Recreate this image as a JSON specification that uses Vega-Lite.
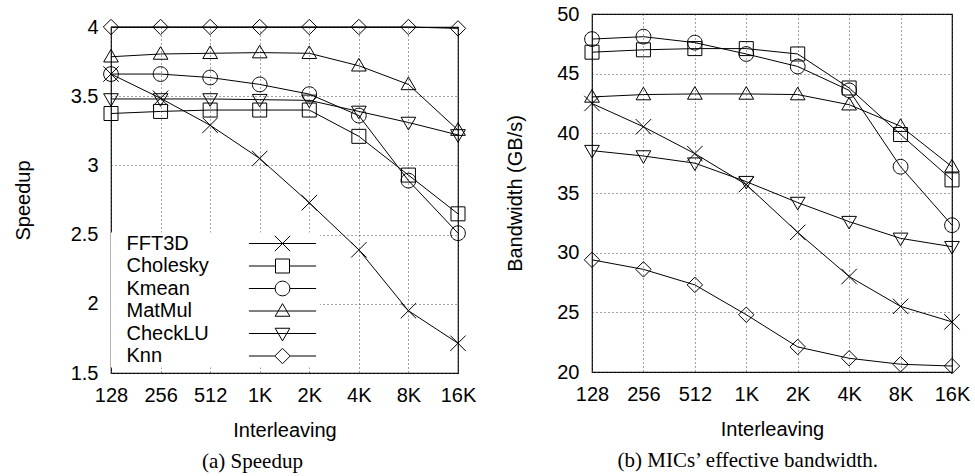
{
  "$schema": "https://vega.github.io/schema/vega-lite/v6.json",
  "padding": {"left": 12, "top": 3, "right": 5, "bottom": 3},
  "spacing": 28,
  "datasets": {
    "speedup": [
      {"i": "128", "s": "FFT3D", "v": 3.66}, {"i": "256", "s": "FFT3D", "v": 3.485}, {"i": "512", "s": "FFT3D", "v": 3.29}, {"i": "1K", "s": "FFT3D", "v": 3.05},
      {"i": "2K", "s": "FFT3D", "v": 2.73}, {"i": "4K", "s": "FFT3D", "v": 2.39}, {"i": "8K", "s": "FFT3D", "v": 1.95}, {"i": "16K", "s": "FFT3D", "v": 1.715},
      {"i": "128", "s": "Cholesky", "v": 3.375}, {"i": "256", "s": "Cholesky", "v": 3.39}, {"i": "512", "s": "Cholesky", "v": 3.4}, {"i": "1K", "s": "Cholesky", "v": 3.4},
      {"i": "2K", "s": "Cholesky", "v": 3.4}, {"i": "4K", "s": "Cholesky", "v": 3.21}, {"i": "8K", "s": "Cholesky", "v": 2.93}, {"i": "16K", "s": "Cholesky", "v": 2.65},
      {"i": "128", "s": "Kmean", "v": 3.66}, {"i": "256", "s": "Kmean", "v": 3.66}, {"i": "512", "s": "Kmean", "v": 3.635}, {"i": "1K", "s": "Kmean", "v": 3.585},
      {"i": "2K", "s": "Kmean", "v": 3.515}, {"i": "4K", "s": "Kmean", "v": 3.36}, {"i": "8K", "s": "Kmean", "v": 2.89}, {"i": "16K", "s": "Kmean", "v": 2.51},
      {"i": "128", "s": "MatMul", "v": 3.785}, {"i": "256", "s": "MatMul", "v": 3.805}, {"i": "512", "s": "MatMul", "v": 3.81}, {"i": "1K", "s": "MatMul", "v": 3.815},
      {"i": "2K", "s": "MatMul", "v": 3.81}, {"i": "4K", "s": "MatMul", "v": 3.72}, {"i": "8K", "s": "MatMul", "v": 3.585}, {"i": "16K", "s": "MatMul", "v": 3.255},
      {"i": "128", "s": "CheckLU", "v": 3.48}, {"i": "256", "s": "CheckLU", "v": 3.48}, {"i": "512", "s": "CheckLU", "v": 3.48}, {"i": "1K", "s": "CheckLU", "v": 3.475},
      {"i": "2K", "s": "CheckLU", "v": 3.47}, {"i": "4K", "s": "CheckLU", "v": 3.39}, {"i": "8K", "s": "CheckLU", "v": 3.31}, {"i": "16K", "s": "CheckLU", "v": 3.22},
      {"i": "128", "s": "Knn", "v": 4.0}, {"i": "256", "s": "Knn", "v": 4.0}, {"i": "512", "s": "Knn", "v": 4.0}, {"i": "1K", "s": "Knn", "v": 4.0},
      {"i": "2K", "s": "Knn", "v": 4.0}, {"i": "4K", "s": "Knn", "v": 4.0}, {"i": "8K", "s": "Knn", "v": 4.0}, {"i": "16K", "s": "Knn", "v": 3.99}
    ],
    "bandwidth": [
      {"i": "128", "s": "FFT3D", "v": 42.5}, {"i": "256", "s": "FFT3D", "v": 40.55}, {"i": "512", "s": "FFT3D", "v": 38.3}, {"i": "1K", "s": "FFT3D", "v": 35.7},
      {"i": "2K", "s": "FFT3D", "v": 31.7}, {"i": "4K", "s": "FFT3D", "v": 28.0}, {"i": "8K", "s": "FFT3D", "v": 25.5}, {"i": "16K", "s": "FFT3D", "v": 24.2},
      {"i": "128", "s": "Cholesky", "v": 46.8}, {"i": "256", "s": "Cholesky", "v": 47.0}, {"i": "512", "s": "Cholesky", "v": 47.1}, {"i": "1K", "s": "Cholesky", "v": 47.1},
      {"i": "2K", "s": "Cholesky", "v": 46.65}, {"i": "4K", "s": "Cholesky", "v": 43.8}, {"i": "8K", "s": "Cholesky", "v": 39.9}, {"i": "16K", "s": "Cholesky", "v": 36.1},
      {"i": "128", "s": "Kmean", "v": 47.9}, {"i": "256", "s": "Kmean", "v": 48.1}, {"i": "512", "s": "Kmean", "v": 47.6}, {"i": "1K", "s": "Kmean", "v": 46.65},
      {"i": "2K", "s": "Kmean", "v": 45.6}, {"i": "4K", "s": "Kmean", "v": 43.6}, {"i": "8K", "s": "Kmean", "v": 37.2}, {"i": "16K", "s": "Kmean", "v": 32.3},
      {"i": "128", "s": "MatMul", "v": 43.05}, {"i": "256", "s": "MatMul", "v": 43.25}, {"i": "512", "s": "MatMul", "v": 43.3}, {"i": "1K", "s": "MatMul", "v": 43.3},
      {"i": "2K", "s": "MatMul", "v": 43.25}, {"i": "4K", "s": "MatMul", "v": 42.4}, {"i": "8K", "s": "MatMul", "v": 40.6}, {"i": "16K", "s": "MatMul", "v": 37.2},
      {"i": "128", "s": "CheckLU", "v": 38.55}, {"i": "256", "s": "CheckLU", "v": 38.1}, {"i": "512", "s": "CheckLU", "v": 37.5}, {"i": "1K", "s": "CheckLU", "v": 35.95},
      {"i": "2K", "s": "CheckLU", "v": 34.2}, {"i": "4K", "s": "CheckLU", "v": 32.6}, {"i": "8K", "s": "CheckLU", "v": 31.2}, {"i": "16K", "s": "CheckLU", "v": 30.5},
      {"i": "128", "s": "Knn", "v": 29.4}, {"i": "256", "s": "Knn", "v": 28.6}, {"i": "512", "s": "Knn", "v": 27.3}, {"i": "1K", "s": "Knn", "v": 24.8},
      {"i": "2K", "s": "Knn", "v": 22.1}, {"i": "4K", "s": "Knn", "v": 21.15}, {"i": "8K", "s": "Knn", "v": 20.65}, {"i": "16K", "s": "Knn", "v": 20.5}
    ],
    "spacer": [{"k": 0}]
  },
  "config": {
    "view": {"stroke": "black", "strokeWidth": 1.2},
    "font": "Liberation Sans",
    "axis": {
      "labelFont": "Liberation Sans", "labelFontSize": 20, "labelColor": "black",
      "titleFont": "Liberation Sans", "titleFontSize": 20, "titleFontWeight": "normal", "titleColor": "black",
      "domain": false, "ticks": false, "gridColor": "#444", "gridDash": [1, 3], "gridWidth": 1,
      "labelFlush": false, "labelOverlap": false
    },
    "title": {"font": "Liberation Serif", "fontSize": 21, "fontWeight": "normal", "color": "black", "orient": "bottom", "anchor": "middle", "frame": "bounds"}
  },
  "resolve": {"scale": {"shape": "independent"}, "legend": {"shape": "independent"}},
  "hconcat": [
    {
      "spacing": 1,
      "vconcat": [
        {
          "width": 347, "height": 1,
          "data": {"name": "spacer"},
          "mark": {"type": "point", "opacity": 0, "size": 0, "strokeWidth": 0},
          "view": {"stroke": null}
        },
        {
          "width": 347, "height": 346,
          "data": {"name": "speedup"},
          "title": {"text": "(a) Speedup", "dx": 8, "offset": 11},
          "layer": [
            {
              "mark": {"type": "line", "color": "black", "strokeWidth": 1},
              "encoding": {
                "x": {"field": "i", "type": "ordinal", "sort": ["128", "256", "512", "1K", "2K", "4K", "8K", "16K"], "scale": {"type": "point", "padding": 0},
                      "axis": {"title": "Interleaving", "labelAngle": 0, "labelPadding": 12, "titlePadding": 15, "grid": true}},
                "y": {"field": "v", "type": "quantitative", "scale": {"domain": [1.5, 4], "nice": false, "zero": false},
                      "axis": {"title": "Speedup", "values": [1.5, 2, 2.5, 3, 3.5, 4], "format": "~g", "labelPadding": 13, "titlePadding": 37, "grid": true}},
                "detail": {"field": "s"}
              }
            },
            {
              "mark": {"type": "point", "filled": false, "stroke": "black", "strokeWidth": 1, "size": 196, "opacity": 1},
              "encoding": {
                "x": {"field": "i", "type": "ordinal", "sort": ["128", "256", "512", "1K", "2K", "4K", "8K", "16K"]},
                "y": {"field": "v", "type": "quantitative"},
                "shape": {
                  "field": "s", "type": "nominal",
                  "scale": {
                    "domain": ["FFT3D", "Cholesky", "Kmean", "MatMul", "CheckLU", "Knn"],
                    "range": [
                      "M-1.1,-1.1L1.1,1.1M-1.1,1.1L1.1,-1.1",
                      "M-1,-1H1V1H-1Z",
                      "M-1.05,0A1.05,1.05,0,1,0,1.05,0A1.05,1.05,0,1,0,-1.05,0Z",
                      "M0,-1.05L1.05,0.75L-1.05,0.75Z",
                      "M0,1.05L1.05,-0.75L-1.05,-0.75Z",
                      "M0,-1.1L1.1,0L0,1.1L-1.1,0Z"
                    ]
                  },
                  "legend": null
                }
              }
            },
            {
              "transform": [{"filter": "false"}],
              "mark": {"type": "point", "filled": false, "stroke": "black", "strokeWidth": 1, "size": 196, "opacity": 1},
              "encoding": {
                "x": {"field": "i", "type": "ordinal", "sort": ["128", "256", "512", "1K", "2K", "4K", "8K", "16K"]},
                "y": {"field": "v", "type": "quantitative"},
                "shape": {
                  "field": "s", "type": "nominal",
                  "scale": {
                    "domain": ["FFT3D", "Cholesky", "Kmean", "MatMul", "CheckLU", "Knn"],
                    "range": [
                      "M-4.8,0H4.8M-1.1,-1.1L1.1,1.1M-1.1,1.1L1.1,-1.1",
                      "M-4.8,0H-1M1,0H4.8M-1,-1H1V1H-1Z",
                      "M-4.8,0H-1.05M1.05,0H4.8M-1.05,0A1.05,1.05,0,1,0,1.05,0A1.05,1.05,0,1,0,-1.05,0Z",
                      "M-4.8,0H4.8M0,-1.05L1.05,0.75L-1.05,0.75Z",
                      "M-4.8,0H4.8M0,1.05L1.05,-0.75L-1.05,-0.75Z",
                      "M-4.8,0H-1.1M1.1,0H4.8M0,-1.1L1.1,0L0,1.1L-1.1,0Z"
                    ]
                  },
                  "legend": {
                    "title": null, "orient": "none", "legendX": 0, "legendY": 205.5, "direction": "vertical",
                    "padding": 1, "fillColor": "white", "strokeColor": null,
                    "labelFont": "Liberation Sans", "labelFontSize": 20, "labelColor": "black", "labelLimit": 0,
                    "labelOffset": -166, "symbolOffset": 160.5, "rowPadding": 2.5, "symbolSize": 196,
                    "symbolStrokeColor": "black", "symbolStrokeWidth": 1, "symbolFillColor": "transparent", "symbolOpacity": 1
                  }
                }
              }
            }
          ],
          "resolve": {"scale": {"shape": "independent"}, "legend": {"shape": "independent"}}
        }
      ]
    },
    {
      "width": 360, "height": 358,
      "data": {"name": "bandwidth"},
      "title": {"text": "(b) MICs’ effective bandwidth.", "dx": 10, "offset": 11},
      "layer": [
        {
          "mark": {"type": "line", "color": "black", "strokeWidth": 1},
          "encoding": {
            "x": {"field": "i", "type": "ordinal", "sort": ["128", "256", "512", "1K", "2K", "4K", "8K", "16K"], "scale": {"type": "point", "padding": 0},
                  "axis": {"title": "Interleaving", "labelAngle": 0, "labelPadding": 12, "titlePadding": 15, "grid": true}},
            "y": {"field": "v", "type": "quantitative", "scale": {"domain": [20, 50], "nice": false, "zero": false},
                  "axis": {"title": "Bandwidth (GB/s)", "values": [20, 25, 30, 35, 40, 45, 50], "format": "~g", "labelPadding": 13, "titlePadding": 31, "grid": true}},
            "detail": {"field": "s"}
          }
        },
        {
          "mark": {"type": "point", "filled": false, "stroke": "black", "strokeWidth": 1, "size": 196, "opacity": 1},
          "encoding": {
            "x": {"field": "i", "type": "ordinal", "sort": ["128", "256", "512", "1K", "2K", "4K", "8K", "16K"]},
            "y": {"field": "v", "type": "quantitative"},
            "shape": {
              "field": "s", "type": "nominal",
              "scale": {
                "domain": ["FFT3D", "Cholesky", "Kmean", "MatMul", "CheckLU", "Knn"],
                "range": [
                  "M-1.1,-1.1L1.1,1.1M-1.1,1.1L1.1,-1.1",
                  "M-1,-1H1V1H-1Z",
                  "M-1.05,0A1.05,1.05,0,1,0,1.05,0A1.05,1.05,0,1,0,-1.05,0Z",
                  "M0,-1.05L1.05,0.75L-1.05,0.75Z",
                  "M0,1.05L1.05,-0.75L-1.05,-0.75Z",
                  "M0,-1.1L1.1,0L0,1.1L-1.1,0Z"
                ]
              },
              "legend": null
            }
          }
        }
      ]
    }
  ]
}
